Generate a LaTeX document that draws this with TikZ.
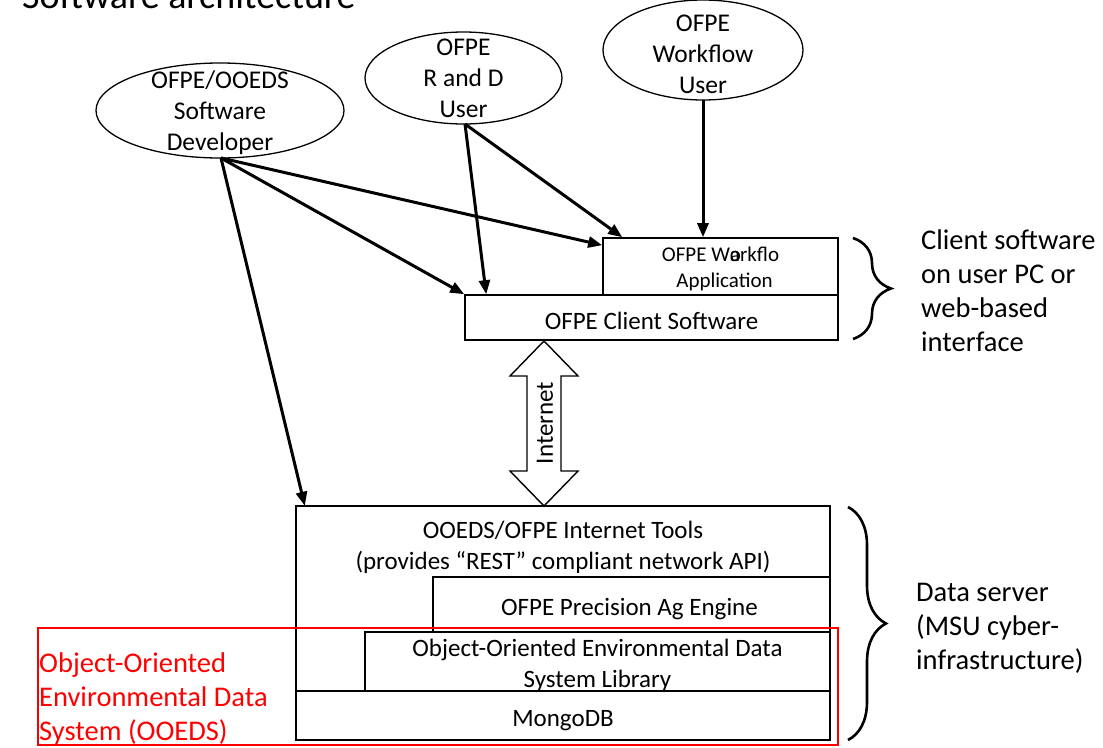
\documentclass[tikz,border=0pt]{standalone}
\usepackage{fontspec}
\setmainfont{Carlito}
\usetikzlibrary{arrows.meta,decorations.pathreplacing}
\newcommand{\nudgeup}[1]{\rule{0pt}{#1}}
\begin{document}
\begin{tikzpicture}[x=1pt,y=-1pt,
  nudge/.style={execute at begin node={\rule{0pt}{#1}}},
  actorline/.style={draw,line width=1.3pt},
  actortext/.style={inner sep=0pt,align=center,font=\fontsize{25.5}{31}\selectfont},
  layer/.style={rectangle,draw,line width=1.6pt,inner xsep=0pt,inner ysep=-10pt,align=center,font=\fontsize{25}{31}\selectfont},
  plain/.style={inner sep=0pt,align=center,font=\fontsize{25}{31}\selectfont},
  side/.style={inner sep=0pt,align=left,anchor=west,font=\fontsize{28.5}{34}\selectfont},
  flow/.style={line width=3pt,-{Triangle[length=14pt,width=11pt]}},
  bracket/.style={line width=2.6pt,decorate,decoration={brace,amplitude=38pt}},
  frame/.style={line width=1.6pt}]
\path[use as bounding box] (0,0) rectangle (1103,747);
\clip (0,0) rectangle (1103,747);

% title (cut off at the top)
\node[anchor=base west,inner sep=0pt,font=\fontsize{38}{46}\selectfont] (title) at (22,8) {Software architecture};

% actors
\coordinate (dev) at (220,110.5);
\coordinate (devS) at (221,158);
\draw[actorline] (dev) ellipse [x radius=124pt, y radius=47.5pt];
\node[actortext] (devtext) at (220,112.5) {OFPE/OOEDS\\Software\\Developer};
\coordinate (rnd) at (463.5,78);
\coordinate (rndS) at (465,124);
\draw[actorline] (rnd) ellipse [x radius=98.5pt, y radius=46pt];
\node[actortext] (rndtext) at (463.5,78.5) {OFPE\\R and D\\User};
\coordinate (wfu) at (703,50);
\coordinate (wfuS) at (703,100);
\draw[actorline] (wfu) ellipse [x radius=100pt, y radius=50pt];
\node[actortext] (wfutext) at (703,54) {OFPE\\Workflow\\User};

% client software
\node[layer,minimum width=235pt,minimum height=57pt,font=\fontsize{21}{26}\selectfont] (wfapp) at (720.5,266.5) {\nudgeup{20pt}OFPE W\makebox[0pt][l]{o}arkflo\\\hspace*{8pt}Application};
\node[layer,nudge=25pt,minimum width=373pt,minimum height=45pt] (client) at (651.5,317.5) {OFPE Client Software};

% data server
\node[minimum width=534pt,minimum height=234pt,inner sep=0pt] (server) at (563,623) {};
\draw[frame] (296,506) -- (830,506) -- (830,577) -- (433,577) -- (433,632) -- (365,632) -- (365,691) -- (296,691) -- cycle;
\node[plain] (tools) at (563,545) {\nudgeup{22pt}OOEDS/OFPE Internet Tools\\(provides “REST” compliant network API)};
\node[layer,nudge=27pt,minimum width=397pt,minimum height=55pt] (engine) at (631.5,604.5) {\hspace*{-4pt}OFPE Precision Ag Engine};
\node[layer,minimum width=465pt,minimum height=59pt] (lib) at (597.5,661.5) {\nudgeup{26pt}Object-Oriented Environmental Data\\System Library};
\node[layer,nudge=27pt,minimum width=534pt,minimum height=49pt] (mongo) at (563,715.5) {MongoDB};

% internet double arrow
\draw[line width=1.4pt,fill=white] (544,341) -- (578,376) -- (561,376) -- (561,471) -- (578,471) -- (544,506)
  -- (510,471) -- (527,471) -- (527,376) -- (510,376) -- cycle;
\node[plain,rotate=90] (inet) at (545,423) {Internet};

% arrows
\draw[flow] (devS) -- ([xshift=9pt]server.north west);
\draw[flow] (devS) -- (client.north west);
\draw[flow] (devS) -- ([yshift=-8pt]wfapp.north west);
\draw[flow] (rndS) -- ([xshift=22pt]client.north west);
\draw[flow] (rndS) -- ([xshift=20pt]wfapp.north west);
\draw[flow] (wfuS) -- (wfuS |- wfapp.north);

% braces and side labels
\draw[bracket] (853,238) -- (853,339);
\node[side] (clientlbl) at (921,291) {Client software\\on user PC or\\web-based\\interface};
\draw[bracket] (848,507) -- (848,740);
\node[side] (serverlbl) at (916,628) {Data server\\(MSU cyber-\\infrastructure)};

% OOEDS highlight
\draw[red,line width=2.4pt] (38,628) rectangle (838,745);
\node[side,text=red] (ooeds) at (39,699) {Object-Oriented\\Environmental Data\\System (OOEDS)};
\end{tikzpicture}
\end{document}
